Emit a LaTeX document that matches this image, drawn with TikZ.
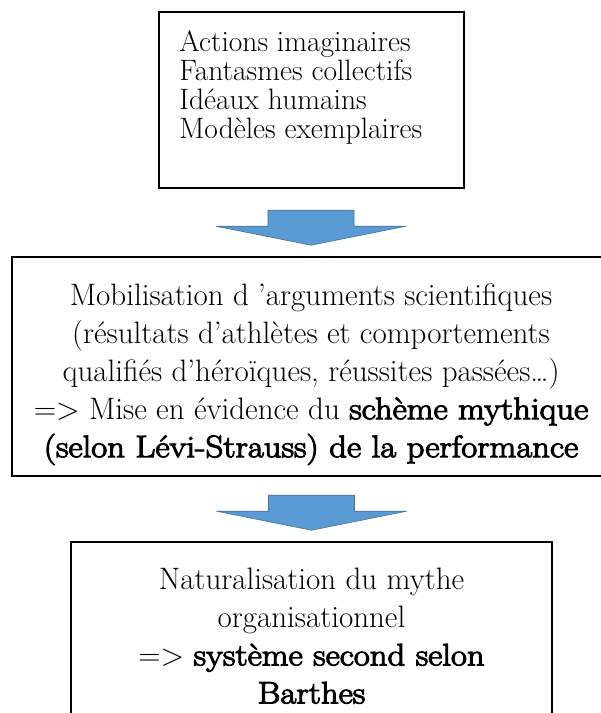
\documentclass[tikz,border=0pt]{standalone}
\usepackage{fontspec}
\setmainfont{Latin Modern Roman}[BoldFont={Latin Modern Roman}, BoldFeatures={FakeBold=3.5, FakeStretch=1.12}]
\usepackage{tikz}
\usetikzlibrary{positioning, calc}

\definecolor{arrowblue}{RGB}{91,155,213}
\definecolor{arrowedge}{RGB}{65,113,156}

\tikzset{
  box/.style={draw=black, line width=1.6pt, inner sep=0pt},
  boxtext/.style={inner sep=0pt, align=center, font=\fontsize{31}{38}\selectfont},
  flowarr/.style={fill=arrowblue, draw=arrowedge, line width=0.6pt, line join=miter},
}

% block arrow ending just above the box #1
\newcommand{\flowarrow}[1]{%
  \draw[flowarr] ($(#1.north)+(0,-11)$) -- ++(-95,-19) -- ++(52,0) -- ++(0,-16)
    -- ++(86,0) -- ++(0,16) -- ++(52,0) -- cycle;}

\begin{document}
\begin{tikzpicture}[x=1pt, y=-1pt]
\useasboundingbox (0,0) rectangle (601,713);

% boxes
\node[box, minimum width=305pt, minimum height=176pt] (imaginaire) at (311.5,100) {};
\node[box, minimum width=598pt, minimum height=219pt] (mobilisation) at (311,366.5) {};
\node[box, minimum width=481pt, minimum height=200pt] (naturalisation) at (311.5,642) {};

% texts
\node[boxtext, align=left, font=\fontsize{29.5}{29}\selectfont, anchor=north west]
  (imaginaire-txt) at ([xshift=21pt, yshift=-18.9pt]imaginaire.north west)
  {Actions imaginaires\\ Fantasmes collectifs\\ Idéaux humains\\ Modèles exemplaires};
\node[boxtext, anchor=north] (mobilisation-txt) at ([yshift=-27pt]mobilisation.north)
  {Mobilisation d ’arguments scientifiques\\
   (résultats d’athlètes et comportements\\
   qualifiés d’héroïques, réussites passées…)\\
   => Mise en évidence du \textbf{schème mythique}\\
   \textbf{(selon Lévi-Strauss) de la performance}};
\node[boxtext, anchor=north] (naturalisation-txt) at ([yshift=-26.5pt]naturalisation.north)
  {Naturalisation du mythe\\ organisationnel\\
   => \textbf{système second selon}\\ \textbf{Barthes}};

% arrows
\flowarrow{mobilisation}
\flowarrow{naturalisation}
\end{tikzpicture}
\end{document}
